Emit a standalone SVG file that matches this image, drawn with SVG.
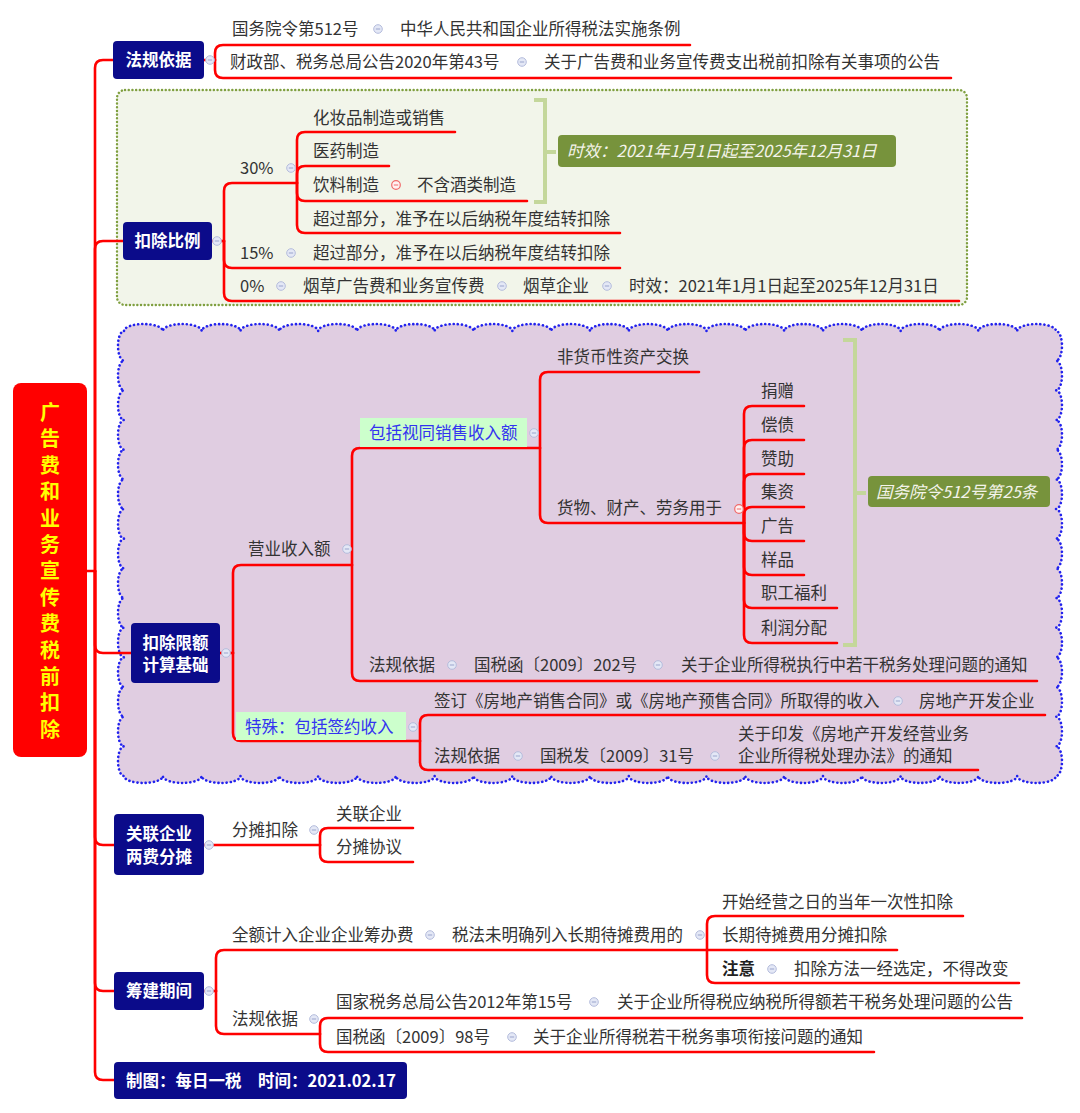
<svg xmlns="http://www.w3.org/2000/svg" xmlns:xlink="http://www.w3.org/1999/xlink" width="1080" height="1113" viewBox="0 0 1080 1113">
<style>
.t{font-family:"Noto Sans CJK SC","Noto Sans",sans-serif;font-size:16.5px;fill:#333}
.b{font-weight:bold;fill:#222}
.blue{fill:#3333F0}
.n{fill:#0B0B8A}
.nt{font-family:"Noto Sans CJK SC","Noto Sans",sans-serif;font-size:16.5px;font-weight:bold;fill:#fff;text-anchor:middle}
.l{fill:none;stroke:#FF0000;stroke-width:2.6;stroke-linecap:round;stroke-linejoin:round}
.br{fill:none;stroke:#C4D79B;stroke-width:4}
.co{fill:#77933C}
.ct{font-family:"Noto Sans CJK SC","Noto Sans",sans-serif;font-size:16.5px;font-style:italic;fill:#F4F4EA}
.hl{fill:#CCFFCC}
</style>
<defs>
<g id="c"><circle r="4.3" fill="#E4E8F6" stroke="#B4BCDC" stroke-width="1"/><line x1="-2.2" y1="0" x2="2.2" y2="0" stroke="#9AA4CC" stroke-width="1"/></g>
<g id="cr"><circle r="4.3" fill="#FFF2F2" stroke="#F06A6A" stroke-width="1.2"/><line x1="-2.2" y1="0" x2="2.2" y2="0" stroke="#F06A6A" stroke-width="1"/></g>
</defs>
<rect width="1080" height="1113" fill="#fff"/>

<!-- background boundaries -->
<g id="boundary-ratio">
<rect x="117" y="90" width="850" height="215" rx="8" fill="#F2F5EA" stroke="#7F9F3F" stroke-width="2.4" stroke-dasharray="0.1 3.6" stroke-linecap="round"/>
</g>
<g id="boundary-base">
<path fill="#E0CDE1" stroke="#2222EE" stroke-width="2.6" stroke-dasharray="0.1 4" stroke-linecap="round" d="M124 331
a19.417 7 0 0 1 38.833 0 a19.417 7 0 0 1 38.833 0 a19.417 7 0 0 1 38.833 0 a19.417 7 0 0 1 38.833 0 a19.417 7 0 0 1 38.833 0 a19.417 7 0 0 1 38.833 0
a19.417 7 0 0 1 38.833 0 a19.417 7 0 0 1 38.833 0 a19.417 7 0 0 1 38.833 0 a19.417 7 0 0 1 38.833 0 a19.417 7 0 0 1 38.833 0 a19.417 7 0 0 1 38.833 0
a19.417 7 0 0 1 38.833 0 a19.417 7 0 0 1 38.833 0 a19.417 7 0 0 1 38.833 0 a19.417 7 0 0 1 38.833 0 a19.417 7 0 0 1 38.833 0 a19.417 7 0 0 1 38.833 0
a19.417 7 0 0 1 38.833 0 a19.417 7 0 0 1 38.833 0 a19.417 7 0 0 1 38.833 0 a19.417 7 0 0 1 38.833 0 a19.417 7 0 0 1 38.833 0 a19.417 7 0 0 1 38.833 0
a6 14.833 0 0 1 0 29.667 a6 14.833 0 0 1 0 29.667 a6 14.833 0 0 1 0 29.667 a6 14.833 0 0 1 0 29.667 a6 14.833 0 0 1 0 29.667
a6 14.833 0 0 1 0 29.667 a6 14.833 0 0 1 0 29.667 a6 14.833 0 0 1 0 29.667 a6 14.833 0 0 1 0 29.667 a6 14.833 0 0 1 0 29.667
a6 14.833 0 0 1 0 29.667 a6 14.833 0 0 1 0 29.667 a6 14.833 0 0 1 0 29.667 a6 14.833 0 0 1 0 29.667 a6 14.833 0 0 1 0 29.667
a19.417 7 0 0 1 -38.833 0 a19.417 7 0 0 1 -38.833 0 a19.417 7 0 0 1 -38.833 0 a19.417 7 0 0 1 -38.833 0 a19.417 7 0 0 1 -38.833 0 a19.417 7 0 0 1 -38.833 0
a19.417 7 0 0 1 -38.833 0 a19.417 7 0 0 1 -38.833 0 a19.417 7 0 0 1 -38.833 0 a19.417 7 0 0 1 -38.833 0 a19.417 7 0 0 1 -38.833 0 a19.417 7 0 0 1 -38.833 0
a19.417 7 0 0 1 -38.833 0 a19.417 7 0 0 1 -38.833 0 a19.417 7 0 0 1 -38.833 0 a19.417 7 0 0 1 -38.833 0 a19.417 7 0 0 1 -38.833 0 a19.417 7 0 0 1 -38.833 0
a19.417 7 0 0 1 -38.833 0 a19.417 7 0 0 1 -38.833 0 a19.417 7 0 0 1 -38.833 0 a19.417 7 0 0 1 -38.833 0 a19.417 7 0 0 1 -38.833 0 a19.417 7 0 0 1 -38.833 0
a6 14.833 0 0 1 0 -29.667 a6 14.833 0 0 1 0 -29.667 a6 14.833 0 0 1 0 -29.667 a6 14.833 0 0 1 0 -29.667 a6 14.833 0 0 1 0 -29.667
a6 14.833 0 0 1 0 -29.667 a6 14.833 0 0 1 0 -29.667 a6 14.833 0 0 1 0 -29.667 a6 14.833 0 0 1 0 -29.667 a6 14.833 0 0 1 0 -29.667
a6 14.833 0 0 1 0 -29.667 a6 14.833 0 0 1 0 -29.667 a6 14.833 0 0 1 0 -29.667 a6 14.833 0 0 1 0 -29.667 a6 14.833 0 0 1 0 -29.667 Z"/>
</g>

<!-- connectors -->
<g id="connectors" class="l">
<path d="M87 571 H95"/>
<path d="M95 571 V68 Q95 60 103 60 H113"/>
<path d="M95 571 V249 Q95 241 103 241 H123"/>
<path d="M95 571 V645 Q95 653 103 653 H131"/>
<path d="M95 571 V837 Q95 845 103 845 H114"/>
<path d="M95 571 V983 Q95 991 103 991 H114"/>
<path d="M95 571 V1072 Q95 1080 103 1080 H114"/>
<!-- 法规依据 -->
<path d="M204 60 H215"/>
<path d="M215 60 V53 Q215 45 223 45 H690"/>
<path d="M215 60 V70 Q215 78 223 78 H951"/>
<!-- 扣除比例 -->
<path d="M212 241 H224"/>
<path d="M224 241 V191 Q224 183 232 183 H297"/>
<path d="M224 241 V260 Q224 268 232 268 H620"/>
<path d="M224 241 V293 Q224 301 232 301 H959"/>
<path d="M297 183 V140 Q297 132 305 132 H455"/>
<path d="M297 183 V174 Q297 166 305 166 H389"/>
<path d="M297 183 V193 Q297 201 305 201 H527"/>
<path d="M297 183 V225 Q297 233 305 233 H620"/>
<!-- 扣除限额计算基础 -->
<path d="M220 653 H233"/>
<path d="M233 653 V573 Q233 565 241 565 H352"/>
<path d="M233 653 V733 Q233 741 241 741 H420"/>
<path d="M352 565 V456 Q352 448 360 448 H540"/>
<path d="M352 565 V673 Q352 681 360 681 H1037"/>
<path d="M540 448 V380 Q540 372 548 372 H699"/>
<path d="M540 448 V515 Q540 523 548 523 H744"/>
<path d="M744 523 V414 Q744 406 752 406 H804"/>
<path d="M744 523 V448 Q744 440 752 440 H804"/>
<path d="M744 523 V482 Q744 474 752 474 H804"/>
<path d="M744 523 V515 Q744 507 752 507 H804"/>
<path d="M744 523 V533 Q744 541 752 541 H804"/>
<path d="M744 523 V567 Q744 575 752 575 H804"/>
<path d="M744 523 V600 Q744 608 752 608 H837"/>
<path d="M744 523 V635 Q744 643 752 643 H837"/>
<path d="M420 741 V723 Q420 715 428 715 H1045"/>
<path d="M420 741 V762 Q420 770 428 770 H978"/>
<!-- 关联企业 -->
<path d="M204 845 H320"/>
<path d="M320 845 V836 Q320 828 328 828 H413"/>
<path d="M320 845 V854 Q320 862 328 862 H413"/>
<!-- 筹建期间 -->
<path d="M204 991 H216"/>
<path d="M216 991 V958 Q216 950 224 950 H707"/>
<path d="M216 991 V1026 Q216 1034 224 1034 H320"/>
<path d="M707 950 V924 Q707 916 715 916 H963"/>
<path d="M707 950 H897"/>
<path d="M707 950 V975 Q707 983 715 983 H1019"/>
<path d="M320 1034 V1026 Q320 1018 328 1018 H1022"/>
<path d="M320 1034 V1044 Q320 1052 328 1052 H874"/>
</g>

<!-- brackets -->
<g id="summary-brackets" class="br">
<path d="M534 100 H545 V202 H534 M545 152 H556"/>
<path d="M843 340 H855 V645 H843 M855 493 H866"/>
</g>

<!-- central node -->
<g id="root">
<rect x="13" y="383" width="74" height="374" rx="8" fill="#FF0000"/>
<text font-family="'Noto Sans CJK SC','Noto Sans',sans-serif" font-size="20" font-weight="bold" fill="#FFFF00" text-anchor="middle"><tspan x="50" y="420">广</tspan><tspan x="50" dy="26.4">告</tspan><tspan x="50" dy="26.4">费</tspan><tspan x="50" dy="26.4">和</tspan><tspan x="50" dy="26.4">业</tspan><tspan x="50" dy="26.4">务</tspan><tspan x="50" dy="26.4">宣</tspan><tspan x="50" dy="26.4">传</tspan><tspan x="50" dy="26.4">费</tspan><tspan x="50" dy="26.4">税</tspan><tspan x="50" dy="26.4">前</tspan><tspan x="50" dy="26.4">扣</tspan><tspan x="50" dy="26.4">除</tspan></text>
</g>

<!-- 法规依据 -->
<g id="n-law">
<rect class="n" x="113" y="41" width="91" height="38" rx="4"/>
<text class="nt" x="158.5" y="66">法规依据</text>
<use href="#c" x="210" y="60"/>
</g>
<g id="n-law-1">
<text class="t" x="232" y="35">国务院令第512号</text>
<use href="#c" x="378" y="29"/>
<text class="t" x="400" y="35">中华人民共和国企业所得税法实施条例</text>
</g>
<g id="n-law-2">
<text class="t" x="230" y="68">财政部、税务总局公告2020年第43号</text>
<use href="#c" x="522" y="62"/>
<text class="t" x="544" y="68">关于广告费和业务宣传费支出税前扣除有关事项的公告</text>
</g>

<!-- 扣除比例 -->
<g id="n-ratio">
<rect class="n" x="123" y="222" width="89" height="38" rx="4"/>
<text class="nt" x="167.5" y="247">扣除比例</text>
<use href="#c" x="217" y="241"/>
</g>
<g id="n-30">
<text class="t" x="240" y="174">30%</text>
<use href="#c" x="291" y="168"/>
</g>
<g id="n-30-1"><text class="t" x="313" y="124">化妆品制造或销售</text></g>
<g id="n-30-2"><text class="t" x="313" y="157">医药制造</text></g>
<g id="n-30-3"><text class="t" x="313" y="191">饮料制造</text><use href="#cr" x="396" y="185"/><text class="t" x="417" y="191">不含酒类制造</text></g>
<g id="n-30-4"><text class="t" x="313" y="225">超过部分，准予在以后纳税年度结转扣除</text></g>
<g id="n-15">
<text class="t" x="240" y="259">15%</text>
<use href="#c" x="291" y="253"/>
<text class="t" x="313" y="259">超过部分，准予在以后纳税年度结转扣除</text>
</g>
<g id="n-0">
<text class="t" x="240" y="292">0%</text>
<use href="#c" x="281" y="286"/>
<text class="t" x="303" y="292">烟草广告费和业务宣传费</text>
<use href="#c" x="502" y="286"/>
<text class="t" x="523" y="292">烟草企业</text>
<use href="#c" x="607" y="286"/>
<text class="t" x="629" y="292">时效：2021年1月1日起至2025年12月31日</text>
</g>
<g id="n-summary-1">
<rect class="co" x="558" y="135" width="338" height="32" rx="4"/>
<text class="ct" x="567" y="157">时效：2021年1月1日起至2025年12月31日</text>
</g>

<!-- 扣除限额计算基础 -->
<g id="n-base">
<rect class="n" x="131" y="623" width="89" height="60" rx="4"/>
<text class="nt" x="175.5" y="649">扣除限额</text>
<text class="nt" x="175.5" y="671">计算基础</text>
<use href="#c" x="226" y="653"/>
</g>
<g id="n-revenue">
<text class="t" x="248" y="555">营业收入额</text>
<use href="#c" x="347" y="549"/>
</g>
<g id="n-deemed">
<rect class="hl" x="360" y="418" width="167" height="29"/>
<text class="t blue" x="369" y="439">包括视同销售收入额</text>
<use href="#c" x="534" y="433"/>
</g>
<g id="n-nonmonetary"><text class="t" x="557" y="363">非货币性资产交换</text></g>
<g id="n-goods">
<text class="t" x="557" y="514">货物、财产、劳务用于</text>
<use href="#cr" x="739" y="509"/>
</g>
<g id="n-g1"><text class="t" x="761" y="397">捐赠</text></g>
<g id="n-g2"><text class="t" x="761" y="431">偿债</text></g>
<g id="n-g3"><text class="t" x="761" y="465">赞助</text></g>
<g id="n-g4"><text class="t" x="761" y="498">集资</text></g>
<g id="n-g5"><text class="t" x="761" y="532">广告</text></g>
<g id="n-g6"><text class="t" x="761" y="566">样品</text></g>
<g id="n-g7"><text class="t" x="761" y="599">职工福利</text></g>
<g id="n-g8"><text class="t" x="761" y="634">利润分配</text></g>
<g id="n-summary-2">
<rect class="co" x="868" y="476" width="182" height="31" rx="4"/>
<text class="ct" x="876" y="498">国务院令512号第25条</text>
</g>
<g id="n-base-law">
<text class="t" x="369" y="671">法规依据</text>
<use href="#c" x="452" y="665"/>
<text class="t" x="474" y="671">国税函〔2009〕202号</text>
<use href="#c" x="658" y="665"/>
<text class="t" x="681" y="671">关于企业所得税执行中若干税务处理问题的通知</text>
</g>
<g id="n-special">
<rect class="hl" x="236" y="712" width="170" height="28"/>
<text class="t blue" x="245" y="733">特殊：包括签约收入</text>
<use href="#c" x="413" y="727"/>
</g>
<g id="n-contract">
<text class="t" x="434" y="707">签订《房地产销售合同》或《房地产预售合同》所取得的收入</text>
<use href="#c" x="898" y="701"/>
<text class="t" x="919" y="707">房地产开发企业</text>
</g>
<g id="n-special-law">
<text class="t" x="434" y="762">法规依据</text>
<use href="#c" x="518" y="756"/>
<text class="t" x="540" y="762">国税发〔2009〕31号</text>
<use href="#c" x="715" y="756"/>
<text class="t" x="738" y="740">关于印发《房地产开发经营业务</text>
<text class="t" x="738" y="762">企业所得税处理办法》的通知</text>
</g>

<!-- 关联企业两费分摊 -->
<g id="n-related">
<rect class="n" x="114" y="814" width="90" height="61" rx="4"/>
<text class="nt" x="159" y="840">关联企业</text>
<text class="nt" x="159" y="863">两费分摊</text>
<use href="#c" x="209" y="845"/>
</g>
<g id="n-share">
<text class="t" x="232" y="836">分摊扣除</text>
<use href="#c" x="314" y="830"/>
</g>
<g id="n-share-1"><text class="t" x="336" y="820">关联企业</text></g>
<g id="n-share-2"><text class="t" x="336" y="853">分摊协议</text></g>

<!-- 筹建期间 -->
<g id="n-prep">
<rect class="n" x="114" y="972" width="90" height="38" rx="4"/>
<text class="nt" x="159" y="997">筹建期间</text>
<use href="#c" x="209" y="991"/>
</g>
<g id="n-prep-1">
<text class="t" x="232" y="941">全额计入企业企业筹办费</text>
<use href="#c" x="430" y="935"/>
<text class="t" x="452" y="941">税法未明确列入长期待摊费用的</text>
<use href="#c" x="700" y="935"/>
</g>
<g id="n-prep-1a"><text class="t" x="722" y="908">开始经营之日的当年一次性扣除</text></g>
<g id="n-prep-1b"><text class="t" x="722" y="941">长期待摊费用分摊扣除</text></g>
<g id="n-prep-1c">
<text class="t b" x="722" y="975">注意</text>
<use href="#c" x="772" y="969"/>
<text class="t" x="794" y="975">扣除方法一经选定，不得改变</text>
</g>
<g id="n-prep-law">
<text class="t" x="232" y="1025">法规依据</text>
<use href="#c" x="314" y="1019"/>
</g>
<g id="n-prep-law-1">
<text class="t" x="336" y="1008">国家税务总局公告2012年第15号</text>
<use href="#c" x="594" y="1002"/>
<text class="t" x="617" y="1008">关于企业所得税应纳税所得额若干税务处理问题的公告</text>
</g>
<g id="n-prep-law-2">
<text class="t" x="336" y="1043">国税函〔2009〕98号</text>
<use href="#c" x="512" y="1037"/>
<text class="t" x="533" y="1043">关于企业所得税若干税务事项衔接问题的通知</text>
</g>

<!-- 制图 -->
<g id="n-credit">
<rect class="n" x="114" y="1062" width="293" height="37" rx="4"/>
<text class="nt" x="126" y="1087" style="text-anchor:start">制图：每日一税　时间：2021.02.17</text>
</g>
</svg>
